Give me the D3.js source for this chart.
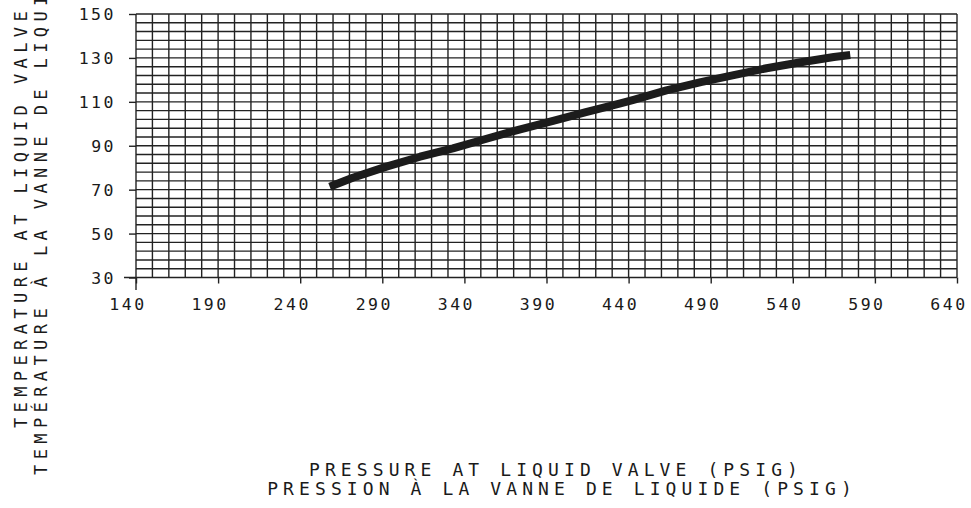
<!DOCTYPE html>
<html>
<head>
<meta charset="utf-8">
<script src="https://cdn.jsdelivr.net/npm/d3@7"></script>
<style>
  html, body { margin: 0; padding: 0; background: #fff; }
  svg { display: block; }
  text { font-family: "DejaVu Sans Mono", monospace; fill: #1a1a1a; }
</style>
</head>
<body>
<svg id="chart" width="971" height="508"></svg>
<script>
// ---- data ----
const pressurePsig = [258, 272, 293, 313, 333, 354, 374, 394, 414, 435, 443, 463, 484, 504, 524, 544, 565, 575];
const liquidTempF  = [71.3, 75.4, 80.6, 85.0, 88.8, 93.3, 97.5, 101.3, 105.3, 109.3, 110.9, 115.2, 119.0, 122.2, 125.3, 127.9, 130.4, 131.3];
const xTickValues = [140, 190, 240, 290, 340, 390, 440, 490, 540, 590, 640];
const yTickValues = [30, 50, 70, 90, 110, 130, 150];
const xTitleLines = ["PRESSURE AT LIQUID VALVE (PSIG)", "PRESSION À LA VANNE DE LIQUIDE (PSIG)"];
const yTitleLines = ["TEMPERATURE AT LIQUID VALVE", "TEMPÉRATURE À LA VANNE DE LIQUIDE"];

const svg = d3.select("#chart");
const x = d3.scaleLinear().domain([140, 640]).range([136, 957]);
const y = d3.scaleLinear().domain([30, 150]).range([277.5, 14]);

const gridColor = "#222";
// grid
const grid = svg.append("g");
grid.selectAll("line.v").data(d3.range(140, 641, 10)).join("line")
  .attr("x1", d => x(d)).attr("x2", d => x(d))
  .attr("y1", y(150)).attr("y2", d => d === 140 ? y(30) + 12.5 : y(30))
  .attr("stroke", gridColor).attr("stroke-width", 1.4);
grid.selectAll("line.h").data(d3.range(30, 151, 4)).join("line")
  .attr("y1", d => y(d)).attr("y2", d => y(d))
  .attr("x1", d => d === 30 ? x(140) - 12 : x(140)).attr("x2", x(640))
  .attr("stroke", gridColor).attr("stroke-width", 1.4);

// axes (ticks)
const xAxis = d3.axisBottom(x).tickValues(xTickValues).tickSize(6).tickFormat("");
const gx = svg.append("g").attr("transform", `translate(0,${y(30)})`).call(xAxis);
gx.select(".domain").remove();
gx.selectAll(".tick line").attr("stroke", gridColor).attr("stroke-width", 1.4);

const yAxis = d3.axisLeft(y).tickValues(yTickValues).tickSize(7).tickFormat("");
const gy = svg.append("g").attr("transform", `translate(${x(140)},0)`).call(yAxis);
gy.select(".domain").remove();
gy.selectAll(".tick line").attr("stroke", gridColor).attr("stroke-width", 1.4);

// tick labels
svg.append("g").selectAll("text").data(xTickValues).join("text")
  .attr("x", d => x(d) - 8).attr("y", 310)
  .attr("text-anchor", "middle")
  .attr("font-size", 16.5).attr("letter-spacing", 2.5)
  .text(d => d);
svg.append("g").selectAll("text").data(yTickValues).join("text")
  .attr("x", 116).attr("y", d => y(d) + 6)
  .attr("text-anchor", "end")
  .attr("font-size", 16.5).attr("letter-spacing", 2.5)
  .text(d => d);

// data line
const line = d3.line().x((d, i) => x(pressurePsig[i])).y(d => y(d));
svg.append("path").datum(liquidTempF)
  .attr("d", line)
  .attr("fill", "none").attr("stroke", "#1c1c1c")
  .attr("stroke-width", 8).attr("stroke-linejoin", "round").attr("stroke-linecap", "butt");

// axis titles
svg.append("g").selectAll("text").data(xTitleLines).join("text")
  .attr("x", (d, i) => i === 0 ? 556 : 562)
  .attr("y", (d, i) => i === 0 ? 476 : 495)
  .attr("text-anchor", "middle")
  .attr("font-size", 18).attr("letter-spacing", 5.1)
  .text(d => d);
svg.append("g").selectAll("text").data(yTitleLines).join("text")
  .attr("transform", (d, i) => `translate(${i === 0 ? 27 : 47},217) rotate(-90)`)
  .attr("text-anchor", "middle")
  .attr("font-size", 17).attr("letter-spacing", 5.4)
  .text(d => d);
</script>
</body>
</html>
